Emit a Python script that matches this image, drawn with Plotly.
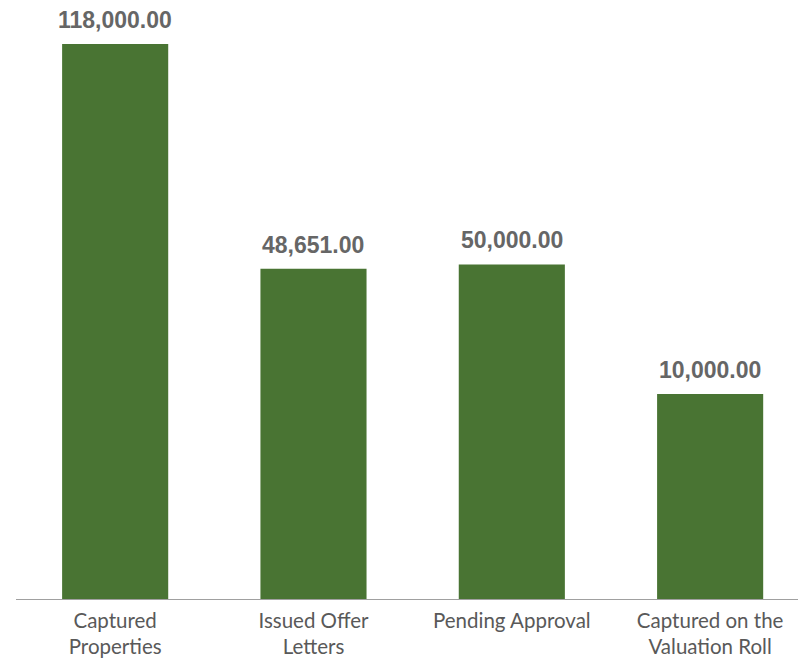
import plotly.graph_objects as go

categories = ["Captured<br>Properties", "Issued Offer<br>Letters", "Pending Approval", "Captured on the<br>Valuation Roll"]
values = [118000.00, 48651.00, 50000.00, 10000.00]
value_labels = ["118,000.00", "48,651.00", "50,000.00", "10,000.00"]

AXIS_MIN = -53257
AXIS_MAX = 130040
BAR_COLOR = "#497433"
TEXT_COLOR = "#595959"

fig = go.Figure()
fig.add_trace(go.Bar(
    x=categories,
    y=[v - AXIS_MIN for v in values],
    base=AXIS_MIN,
    width=0.535,
    marker=dict(color=BAR_COLOR, line=dict(width=0)),
    hoverinfo="skip",
))

for c, v, lab in zip(categories, values, value_labels):
    fig.add_annotation(
        x=c, y=v, text="<b>" + lab + "</b>", showarrow=False,
        yanchor="bottom", yshift=9,
        font=dict(family="Liberation Sans, Arial", size=23, color="#666666"),
    )

fig.update_layout(
    width=798, height=662,
    margin=dict(l=16, r=0, t=5, b=63),
    plot_bgcolor="white", paper_bgcolor="white",
    showlegend=False,
    xaxis=dict(
        type="category",
        range=[-0.5, 3.443],
        automargin=False,
        showline=True, linecolor="#a0a0a0", linewidth=1,
        showgrid=False, ticks="",
        tickfont=dict(family="Lato, Liberation Sans, Arial", size=20.5, color=TEXT_COLOR),
        ticklabelstandoff=3,
    ),
    yaxis=dict(
        range=[AXIS_MIN, AXIS_MAX],
        visible=False, showgrid=False, zeroline=False,
        automargin=False,
    ),
)

fig.write_html(
    "out.html",
    config={"displayModeBar": False},
    post_script="document.body.style.margin='0';document.body.style.overflow='hidden';",
)
